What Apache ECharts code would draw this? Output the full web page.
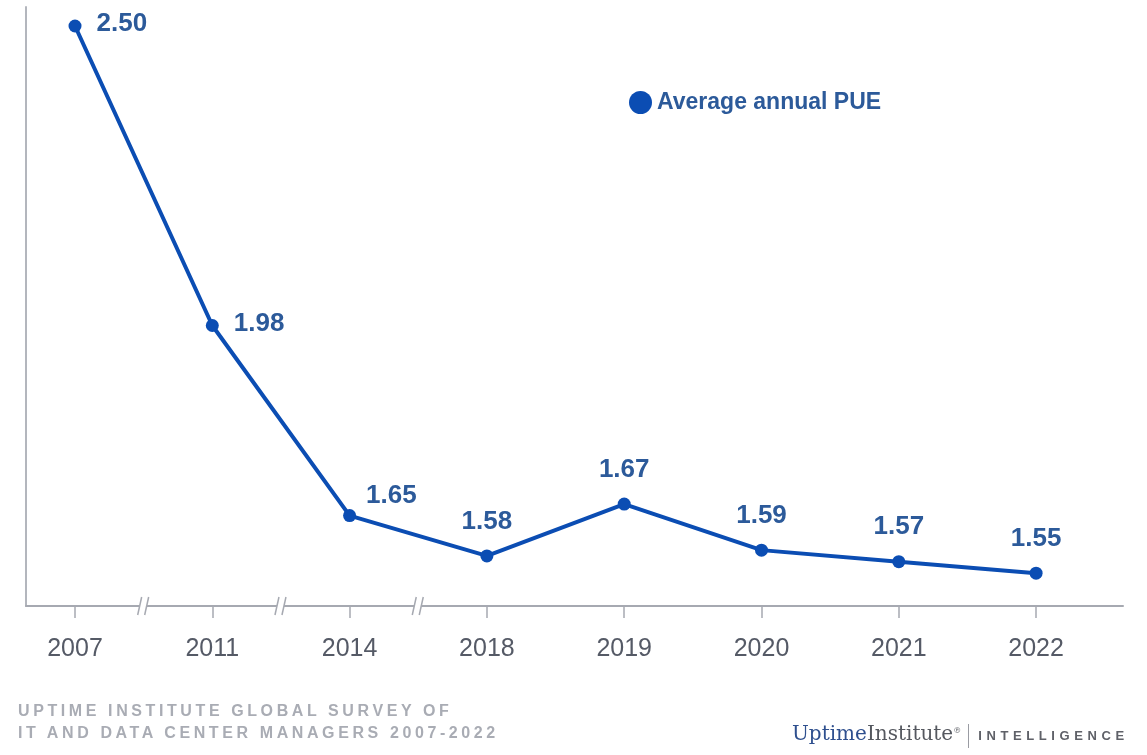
<!DOCTYPE html>
<html>
<head>
<meta charset="utf-8">
<script src="https://cdn.jsdelivr.net/npm/echarts@6/dist/echarts.min.js"></script>
<style>
  html, body { margin: 0; padding: 0; background: #fff; }
  #wrap { position: relative; width: 1147px; height: 755px; overflow: hidden; }
  #chart { position: absolute; left: 0; top: 0; width: 1147px; height: 755px; }
  .src { position: absolute; left: 18px; font-family: "Liberation Sans", Arial, sans-serif; font-weight: bold;
         font-size: 16px; letter-spacing: 3.6px; color: #a9acb4; line-height: 22px; white-space: nowrap; }
  #logo { position: absolute; left: 792px; top: 720px; white-space: nowrap; line-height: 26px; }
  #logo .u { font-family: "DejaVu Serif", serif; font-size: 20px; color: #2e4f8e; }
  #logo .i { font-family: "DejaVu Serif", serif; font-size: 20px; color: #55585f; }
  #logo .r { font-family: "DejaVu Serif", serif; font-size: 8px; color: #55585f; vertical-align: top; position: relative; top: -2px; }
  #logo .bar { display: inline-block; width: 1px; height: 24px; background: #9a9ca3; vertical-align: middle; margin: 0 9px 0 7px; }
  #logo .int { font-family: "Liberation Sans", Arial, sans-serif; font-weight: bold; font-size: 13px; letter-spacing: 4.6px; color: #5f6168; vertical-align: middle; }
</style>
</head>
<body>
<div id="wrap">
  <div id="chart"></div>
  <div class="src" style="top:700px;">UPTIME INSTITUTE GLOBAL SURVEY OF</div>
  <div class="src" style="top:722px;">IT AND DATA CENTER MANAGERS 2007-2022</div>
  <div id="logo"><span class="u">Uptime</span><span class="i">Institute</span><span class="r">®</span><span class="bar"></span><span class="int">INTELLIGENCE</span></div>
</div>
<script>
// ---- data ----
const categories = ['2007', '2011', '2014', '2018', '2019', '2020', '2021', '2022'];
const pueValues = [2.50, 1.98, 1.65, 1.58, 1.67, 1.59, 1.57, 1.55];
const seriesName = 'Average annual PUE';
// axis breaks sit between these category pairs (index positions)
const breakPositions = [0.5, 1.5, 2.5];

const Y_MIN = 1.493, Y_MAX = 2.533;
const X_MIN = -0.357, X_MAX = 7.633;
const lineColor = '#0b4db3';
const labelColor = '#2c5a9a';
const axisColor = '#a6a9b1';

const chart = echarts.init(document.getElementById('chart'), null, { renderer: 'canvas' });

const lineData = categories.map((c, i) => {
  const item = { value: [i, pueValues[i]] };
  if (i < 2) {
    item.label = { position: 'right', distance: 15, offset: [0, -2] };
  } else if (i === 2) {
    item.label = { position: 'right', distance: 10, offset: [0, -20] };
  } else {
    item.label = { position: 'top', distance: 15 };
  }
  return item;
});

const option = {
  animation: false,
  backgroundColor: '#fff',
  grid: { left: 26, right: 24, top: 7, bottom: 149, containLabel: false },
  legend: {
    data: [seriesName],
    left: 624, top: 86,
    icon: 'circle',
    itemWidth: 23, itemHeight: 23,
    textStyle: { fontFamily: 'Liberation Sans, Arial, sans-serif', fontWeight: 'bold', fontSize: 23, color: labelColor },
    selectedMode: false
  },
  xAxis: {
    type: 'value',
    min: X_MIN, max: X_MAX,
    splitLine: { show: false },
    axisLine: { show: true, onZero: false, lineStyle: { color: axisColor, width: 2 } },
    axisTick: { show: true, customValues: categories.map((c, i) => i), length: 12, lineStyle: { color: axisColor, width: 1.5 } },
    axisLabel: {
      show: true,
      customValues: categories.map((c, i) => i),
      formatter: v => categories[Math.round(v)],
      margin: 31,
      fontFamily: 'Liberation Sans, Arial, sans-serif',
      fontSize: 25,
      color: '#555a66'
    }
  },
  yAxis: {
    type: 'value',
    min: Y_MIN, max: Y_MAX,
    splitLine: { show: false },
    axisLine: { show: true, onZero: false, lineStyle: { color: '#b3b6bd', width: 2 } },
    axisTick: { show: false },
    axisLabel: { show: false }
  },
  series: [
    {
      name: seriesName,
      type: 'line',
      data: lineData,
      symbol: 'circle',
      symbolSize: 13,
      lineStyle: { color: lineColor, width: 4 },
      itemStyle: { color: lineColor },
      label: {
        show: true,
        formatter: p => p.value[1].toFixed(2),
        fontFamily: 'Liberation Sans, Arial, sans-serif',
        fontWeight: 'bold',
        fontSize: 26,
        color: labelColor
      },
      z: 3
    },
    {
      name: 'breaks',
      type: 'custom',
      data: breakPositions.map(b => [b, Y_MIN]),
      clip: false,
      silent: true,
      z: 4,
      renderItem: (params, api) => {
        const p = api.coord([api.value(0), api.value(1)]);
        const x = p[0], y = p[1];
        const s = axisColor;
        return {
          type: 'group',
          children: [
            { type: 'polygon', shape: { points: [[x - 6, y + 9], [x + 1, y + 9], [x + 5, y - 9], [x - 2, y - 9]] }, style: { fill: '#fff' } },
            { type: 'line', shape: { x1: x - 6, y1: y + 9, x2: x - 2, y2: y - 9 }, style: { stroke: s, lineWidth: 1.5 } },
            { type: 'line', shape: { x1: x + 1, y1: y + 9, x2: x + 5, y2: y - 9 }, style: { stroke: s, lineWidth: 1.5 } }
          ]
        };
      }
    }
  ]
};

chart.setOption(option);
</script>
</body>
</html>
